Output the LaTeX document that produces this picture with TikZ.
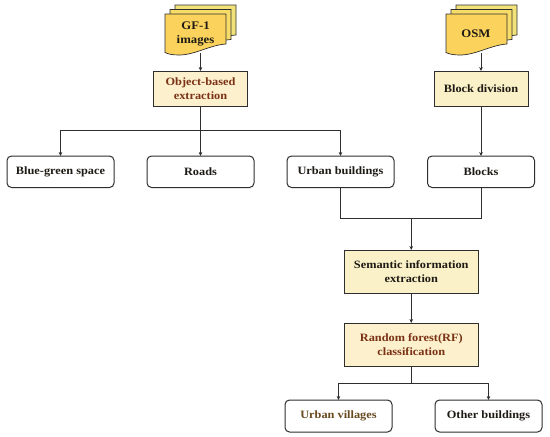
\documentclass[tikz,border=0pt]{standalone}
\usepackage{fontspec}
\setmainfont[FakeStretch=1.1]{Liberation Serif}
\usetikzlibrary{arrows.meta}
\definecolor{docfront}{HTML}{FBD25C}
\definecolor{docmid}{HTML}{F7DC68}
\definecolor{docback}{HTML}{F2E27A}
\definecolor{boxfill}{HTML}{FAF1C9}
\definecolor{boxwarm}{HTML}{FDF0CC}
\definecolor{redtext}{HTML}{7A3216}
\definecolor{browntext}{HTML}{69491F}
\definecolor{inktext}{HTML}{1E1A14}
\definecolor{linecol}{HTML}{2E2E2E}
\tikzset{
  x=1pt,y=-1pt,
  lab/.style={font=\bfseries\fontsize{11.2}{14.3}\selectfont,align=center,text=inktext,inner sep=0pt,outer sep=0pt},
  biglab/.style={lab,font=\bfseries\fontsize{11.6}{14.3}\selectfont},
  procbox/.style={lab,draw=linecol,line width=1pt,anchor=north west,rectangle},
  yellowbox/.style={procbox,fill=boxfill},
  warmbox/.style={procbox,fill=boxwarm,text=redtext},
  roundbox/.style={procbox,fill=white,rounded corners=4.5pt,minimum width=107pt,minimum height=31.5pt},
  conn/.style={draw=linecol,line width=0.7pt},
  arr/.style={conn,-{Stealth[length=4pt,width=3.6pt]}},
  sheet/.style={draw=linecol,line width=0.7pt},
}
\newcommand{\docsheet}[3]{% x, y, fill
  \begin{scope}[shift={(#1,#2)}]
  \path[sheet,fill=#3] (0,0) -- (61,0) -- (61,30)
    .. controls (45,31) and (30,41) .. (14,41)
    .. controls (7,41) and (3,40) .. (0,38.5) -- cycle;
  \end{scope}
}
\begin{document}
\begin{tikzpicture}
\useasboundingbox (0,0) rectangle (550,437);
% document stacks
\docsheet{175}{5}{docback}
\docsheet{170}{9.5}{docmid}
\docsheet{165}{14}{docfront}
\docsheet{456}{5}{docback}
\docsheet{451}{9.5}{docmid}
\docsheet{446}{14}{docfront}
\node[biglab] (gf) at (195.5,34) {GF-1\\images};
\node[biglab] (osm) at (476,33.5) {OSM};
% boxes
\node[warmbox,minimum width=94pt,minimum height=35pt] (obj) at (153.5,71) {Object-based\\extraction};
\node[yellowbox,minimum width=94pt,minimum height=35pt] (blk) at (434,71) {Block division};
\node[roundbox] (bg) at (7,156) {Blue-green space};
\node[roundbox] (rd) at (147,156) {Roads};
\node[roundbox] (ub) at (287,156) {Urban buildings};
\node[roundbox] (bl) at (427.5,156) {Blocks};
\node[yellowbox,minimum width=133.5pt,minimum height=43.5pt] (sem) at (344.5,250) {Semantic information\\extraction};
\node[warmbox,minimum width=133.5pt,minimum height=43.5pt] (rf) at (344.5,323) {Random forest(RF)\\classification};
\node[roundbox,text=browntext,minimum height=32pt] (uv) at (285,400) {Urban villages};
\node[roundbox,minimum height=32pt] (ob) at (435,400) {Other buildings};
% connectors
\coordinate (gfb) at (obj.north |- 0,53);
\coordinate (osmb) at (blk.north |- 0,53);
\coordinate (split) at (obj.south |- 0,130);
\draw[arr] (gfb) -- (obj.north);
\draw[arr] (osmb) -- (blk.north);
\draw[conn] (obj.south) -- (split);
\draw[arr] (split) -| (bg.north);
\draw[arr] (split) -- (rd.north);
\draw[arr] (split) -| (ub.north);
\draw[arr] (blk.south) -- (bl.north);
\coordinate (merge) at (sem.north |- 0,218);
\draw[conn] (ub.south) |- (merge);
\draw[conn] (bl.south) |- (merge);
\draw[arr] (merge) -- (sem.north);
\draw[arr] (sem.south) -- (rf.north);
\coordinate (fork) at (rf.south |- 0,383.5);
\draw[conn] (rf.south) -- (fork);
\draw[arr] (fork) -| (uv.north);
\draw[arr] (fork) -| (ob.north);
\end{tikzpicture}
\end{document}
